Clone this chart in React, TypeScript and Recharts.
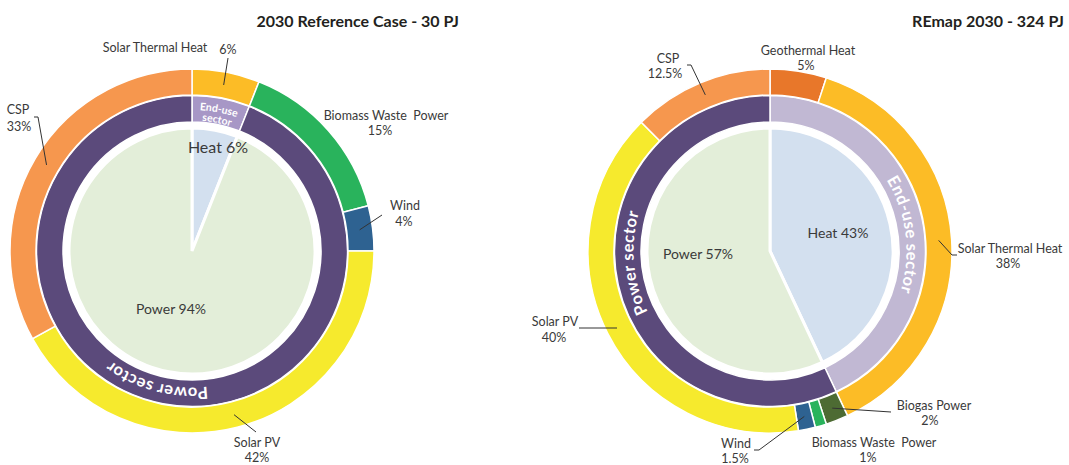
import React from 'react';
import { PieChart, Pie, Cell } from 'recharts';

const W = 1069;
const H = 465;
const FONT = 'Lato, "Open Sans", sans-serif';
const RAD = Math.PI / 180;

// 2030 Reference Case - 30 PJ
const refTitle = '2030 Reference Case - 30 PJ';
const refUseNames = ['Heat', 'Power'];
const refUseShares = [6, 94];
const refSectorNames = ['End-use sector', 'Power sector'];
const refSectorShares = [6, 94];
const refSourceNames = ['Solar Thermal Heat', 'Biomass Waste  Power', 'Wind', 'Solar PV', 'CSP'];
const refSourceShares = [6, 15, 4, 42, 33];

// REmap 2030 - 324 PJ
const remapTitle = 'REmap 2030 - 324 PJ';
const remapUseNames = ['Heat', 'Power'];
const remapUseShares = [43, 57];
const remapSectorNames = ['End-use sector', 'Power sector'];
const remapSectorShares = [43, 57];
const remapSourceNames = [
  'Geothermal Heat',
  'Solar Thermal Heat',
  'Biogas Power',
  'Biomass Waste  Power',
  'Wind',
  'Solar PV',
  'CSP',
];
const remapSourceShares = [5, 38, 2, 1, 1.5, 40, 12.5];

const sourceColors: Record<string, string> = {
  'Solar Thermal Heat': '#fcbc26',
  'Biomass Waste  Power': '#29b35c',
  Wind: '#2e6291',
  'Solar PV': '#f6ea2d',
  CSP: '#f6974e',
  'Geothermal Heat': '#e8772a',
  'Biogas Power': '#4d6b33',
};
const useColors = ['#d3e0ef', '#e3eed9'];

// label placement, relative to the chart centre
type SourceLabel = {
  name: [number, number];
  value: [number, number];
  leader?: [number, number][];
  from?: [number, number];
};

const refSourceLabels: SourceLabel[] = [
  { name: [-37, -199], value: [36, -197], leader: [[36, -193]] },
  { name: [194, -131], value: [188, -116] },
  { name: [213, -41], value: [212, -25], leader: [[190, -36]] },
  { name: [65, 196], value: [65, 211], leader: [[64, 181]] },
  { name: [-174, -137], value: [-173, -120], leader: [[-154, -134], [-158, -134]] },
];
const remapSourceLabels: SourceLabel[] = [
  { name: [38, -196], value: [36, -181] },
  { name: [240, 2], value: [238, 17], leader: [[182, 4], [187, 4]] },
  { name: [164, 159], value: [160, 174], leader: [[121, 161]] },
  { name: [104, 196], value: [98, 211] },
  { name: [-34, 197], value: [-35, 211.5], leader: [[-11, 199], [-16, 199]] },
  { name: [-215, 75], value: [-216, 91], from: [-153, 77], leader: [[-191, 77]] },
  { name: [-102, -188], value: [-105, -173], leader: [[-79, -186], [-83, -186]] },
];

const refUseLabels: [number, number, number][] = [
  [26, -98, 16],
  [-21, 63, 14],
];
const remapUseLabels: [number, number, number][] = [
  [68, -13, 14],
  [-72, 8, 14],
];

// ring captions: lines of [text, radius, font size] around a compass angle
type RingCaption = { angle: number; lines: [string, number, number][] };
const refRingCaptions: RingCaption[] = [
  { angle: 10.8, lines: [['End-use', 141, 10.5], ['sector', 130.5, 10.5]] },
  { angle: 195, lines: [['Power sector', 136.5, 16.5]] },
];
const remapRingCaptions: RingCaption[] = [
  { angle: 83, lines: [['End-use sector', 136.5, 16.5]] },
  { angle: 265, lines: [['Power sector', 136.5, 16.5]] },
];

const toXY = (cx: number, cy: number, r: number, deg: number) => [
  cx + r * Math.sin(deg * RAD),
  cy - r * Math.cos(deg * RAD),
];

const arcPath = (cx: number, cy: number, r: number, center: number, span: number) => {
  const [x0, y0] = toXY(cx, cy, r, center - span / 2);
  const [x1, y1] = toXY(cx, cy, r, center + span / 2);
  return `M ${x0} ${y0} A ${r} ${r} 0 ${span > 180 ? 1 : 0} 1 ${x1} ${y1}`;
};

const build = (names: string[], values: number[]) =>
  names.map((name, i) => ({ name, value: values[i] }));

interface DonutProps {
  id: string;
  cx: number;
  cy: number;
  useNames: string[];
  useShares: number[];
  sectorNames: string[];
  sectorShares: number[];
  sectorColors: string[];
  sourceNames: string[];
  sourceShares: number[];
  sourceLabels: SourceLabel[];
  useLabels: [number, number, number][];
  captions: RingCaption[];
}

const labelText = {
  fontFamily: FONT,
  fill: '#3a3a3a',
  textAnchor: 'middle' as const,
  style: { whiteSpace: 'pre' as const },
};

const renderDonut = (p: DonutProps) => {
  const useData = build(p.useNames, p.useShares);
  const sectorData = build(p.sectorNames, p.sectorShares);
  const sourceData = build(p.sourceNames, p.sourceShares);

  const useLabel = (props: any) => {
    const [dx, dy, fs] = p.useLabels[props.index];
    return (
      <text x={p.cx + dx} y={p.cy + dy} fontSize={fs} {...labelText}>
        {`${props.name} ${props.value}%`}
      </text>
    );
  };

  const sectorLabel = (props: any) => {
    const cap = p.captions[props.index];
    return (
      <g>
        {cap.lines.map(([txt, r, fs], j) => {
          const pid = `${p.id}-ring-${props.index}-${j}`;
          return (
            <g key={pid}>
              <defs>
                <path id={pid} d={arcPath(p.cx, p.cy, r, cap.angle, 130)} />
              </defs>
              <text
                fontSize={fs}
                fontWeight={700}
                fontFamily={FONT}
                letterSpacing={fs > 12 ? 0.5 : 0}
                fill="#ffffff"
              >
                <textPath href={`#${pid}`} startOffset="50%" textAnchor="middle">
                  {txt}
                </textPath>
              </text>
            </g>
          );
        })}
      </g>
    );
  };

  const sourceLabel = (props: any) => {
    const lab = p.sourceLabels[props.index];
    const mid = 90 - props.midAngle;
    const start = lab.from
      ? [p.cx + lab.from[0], p.cy + lab.from[1]]
      : toXY(p.cx, p.cy, 169, mid);
    const pts = lab.leader
      ? [start, ...lab.leader.map(([x, y]) => [p.cx + x, p.cy + y])]
      : [];
    return (
      <g>
        {pts.length > 0 && (
          <polyline
            points={pts.map((q) => q.join(',')).join(' ')}
            fill="none"
            stroke="#333"
            strokeWidth={1}
          />
        )}
        <text x={p.cx + lab.name[0]} y={p.cy + lab.name[1]} fontSize={12.5} {...labelText}>
          {props.name}
        </text>
        <text x={p.cx + lab.value[0]} y={p.cy + lab.value[1]} fontSize={12.5} {...labelText}>
          {`${props.value}%`}
        </text>
      </g>
    );
  };

  return [
    <Pie
      key={`${p.id}-use`}
      data={useData}
      dataKey="value"
      nameKey="name"
      cx={p.cx}
      cy={p.cy}
      innerRadius={0}
      outerRadius={123}
      startAngle={90}
      endAngle={-270}
      stroke="#ffffff"
      strokeWidth={3}
      label={useLabel}
      labelLine={false}
      isAnimationActive={false}
    >
      {useData.map((d, i) => (
        <Cell key={d.name} fill={useColors[i]} />
      ))}
    </Pie>,
    <Pie
      key={`${p.id}-sector`}
      data={sectorData}
      dataKey="value"
      nameKey="name"
      cx={p.cx}
      cy={p.cy}
      innerRadius={129}
      outerRadius={155.5}
      startAngle={90}
      endAngle={-270}
      stroke="#ffffff"
      strokeWidth={1.5}
      label={sectorLabel}
      labelLine={false}
      isAnimationActive={false}
    >
      {sectorData.map((d, i) => (
        <Cell key={d.name} fill={p.sectorColors[i]} />
      ))}
    </Pie>,
    <Pie
      key={`${p.id}-source`}
      data={sourceData}
      dataKey="value"
      nameKey="name"
      cx={p.cx}
      cy={p.cy}
      innerRadius={156}
      outerRadius={182}
      startAngle={90}
      endAngle={-270}
      stroke="#ffffff"
      strokeWidth={1.5}
      label={sourceLabel}
      labelLine={false}
      isAnimationActive={false}
    >
      {sourceData.map((d) => (
        <Cell key={d.name} fill={sourceColors[d.name]} />
      ))}
    </Pie>,
  ];
};

const titleStyle = (right: number): React.CSSProperties => ({
  position: 'absolute',
  top: 11,
  right: W - right,
  fontFamily: FONT,
  fontWeight: 700,
  fontSize: 16,
  lineHeight: '20px',
  color: '#231f20',
  whiteSpace: 'nowrap',
});

export default function App() {
  return (
    <div
      style={{
        position: 'absolute',
        left: 0,
        top: 0,
        width: W,
        height: H,
        background: '#ffffff',
        overflow: 'hidden',
      }}
    >
      <PieChart width={W} height={H} margin={{ top: 0, right: 0, bottom: 0, left: 0 }}>
        {renderDonut({
          id: 'ref',
          cx: 192,
          cy: 251,
          useNames: refUseNames,
          useShares: refUseShares,
          sectorNames: refSectorNames,
          sectorShares: refSectorShares,
          sectorColors: ['#a797c6', '#5b4a7b'],
          sourceNames: refSourceNames,
          sourceShares: refSourceShares,
          sourceLabels: refSourceLabels,
          useLabels: refUseLabels,
          captions: refRingCaptions,
        })}
        {renderDonut({
          id: 'remap',
          cx: 770,
          cy: 251,
          useNames: remapUseNames,
          useShares: remapUseShares,
          sectorNames: remapSectorNames,
          sectorShares: remapSectorShares,
          sectorColors: ['#c1b8d3', '#5b4a7b'],
          sourceNames: remapSourceNames,
          sourceShares: remapSourceShares,
          sourceLabels: remapSourceLabels,
          useLabels: remapUseLabels,
          captions: remapRingCaptions,
        })}
      </PieChart>
      <div style={titleStyle(459)}>{refTitle}</div>
      <div style={titleStyle(1064)}>{remapTitle}</div>
    </div>
  );
}
